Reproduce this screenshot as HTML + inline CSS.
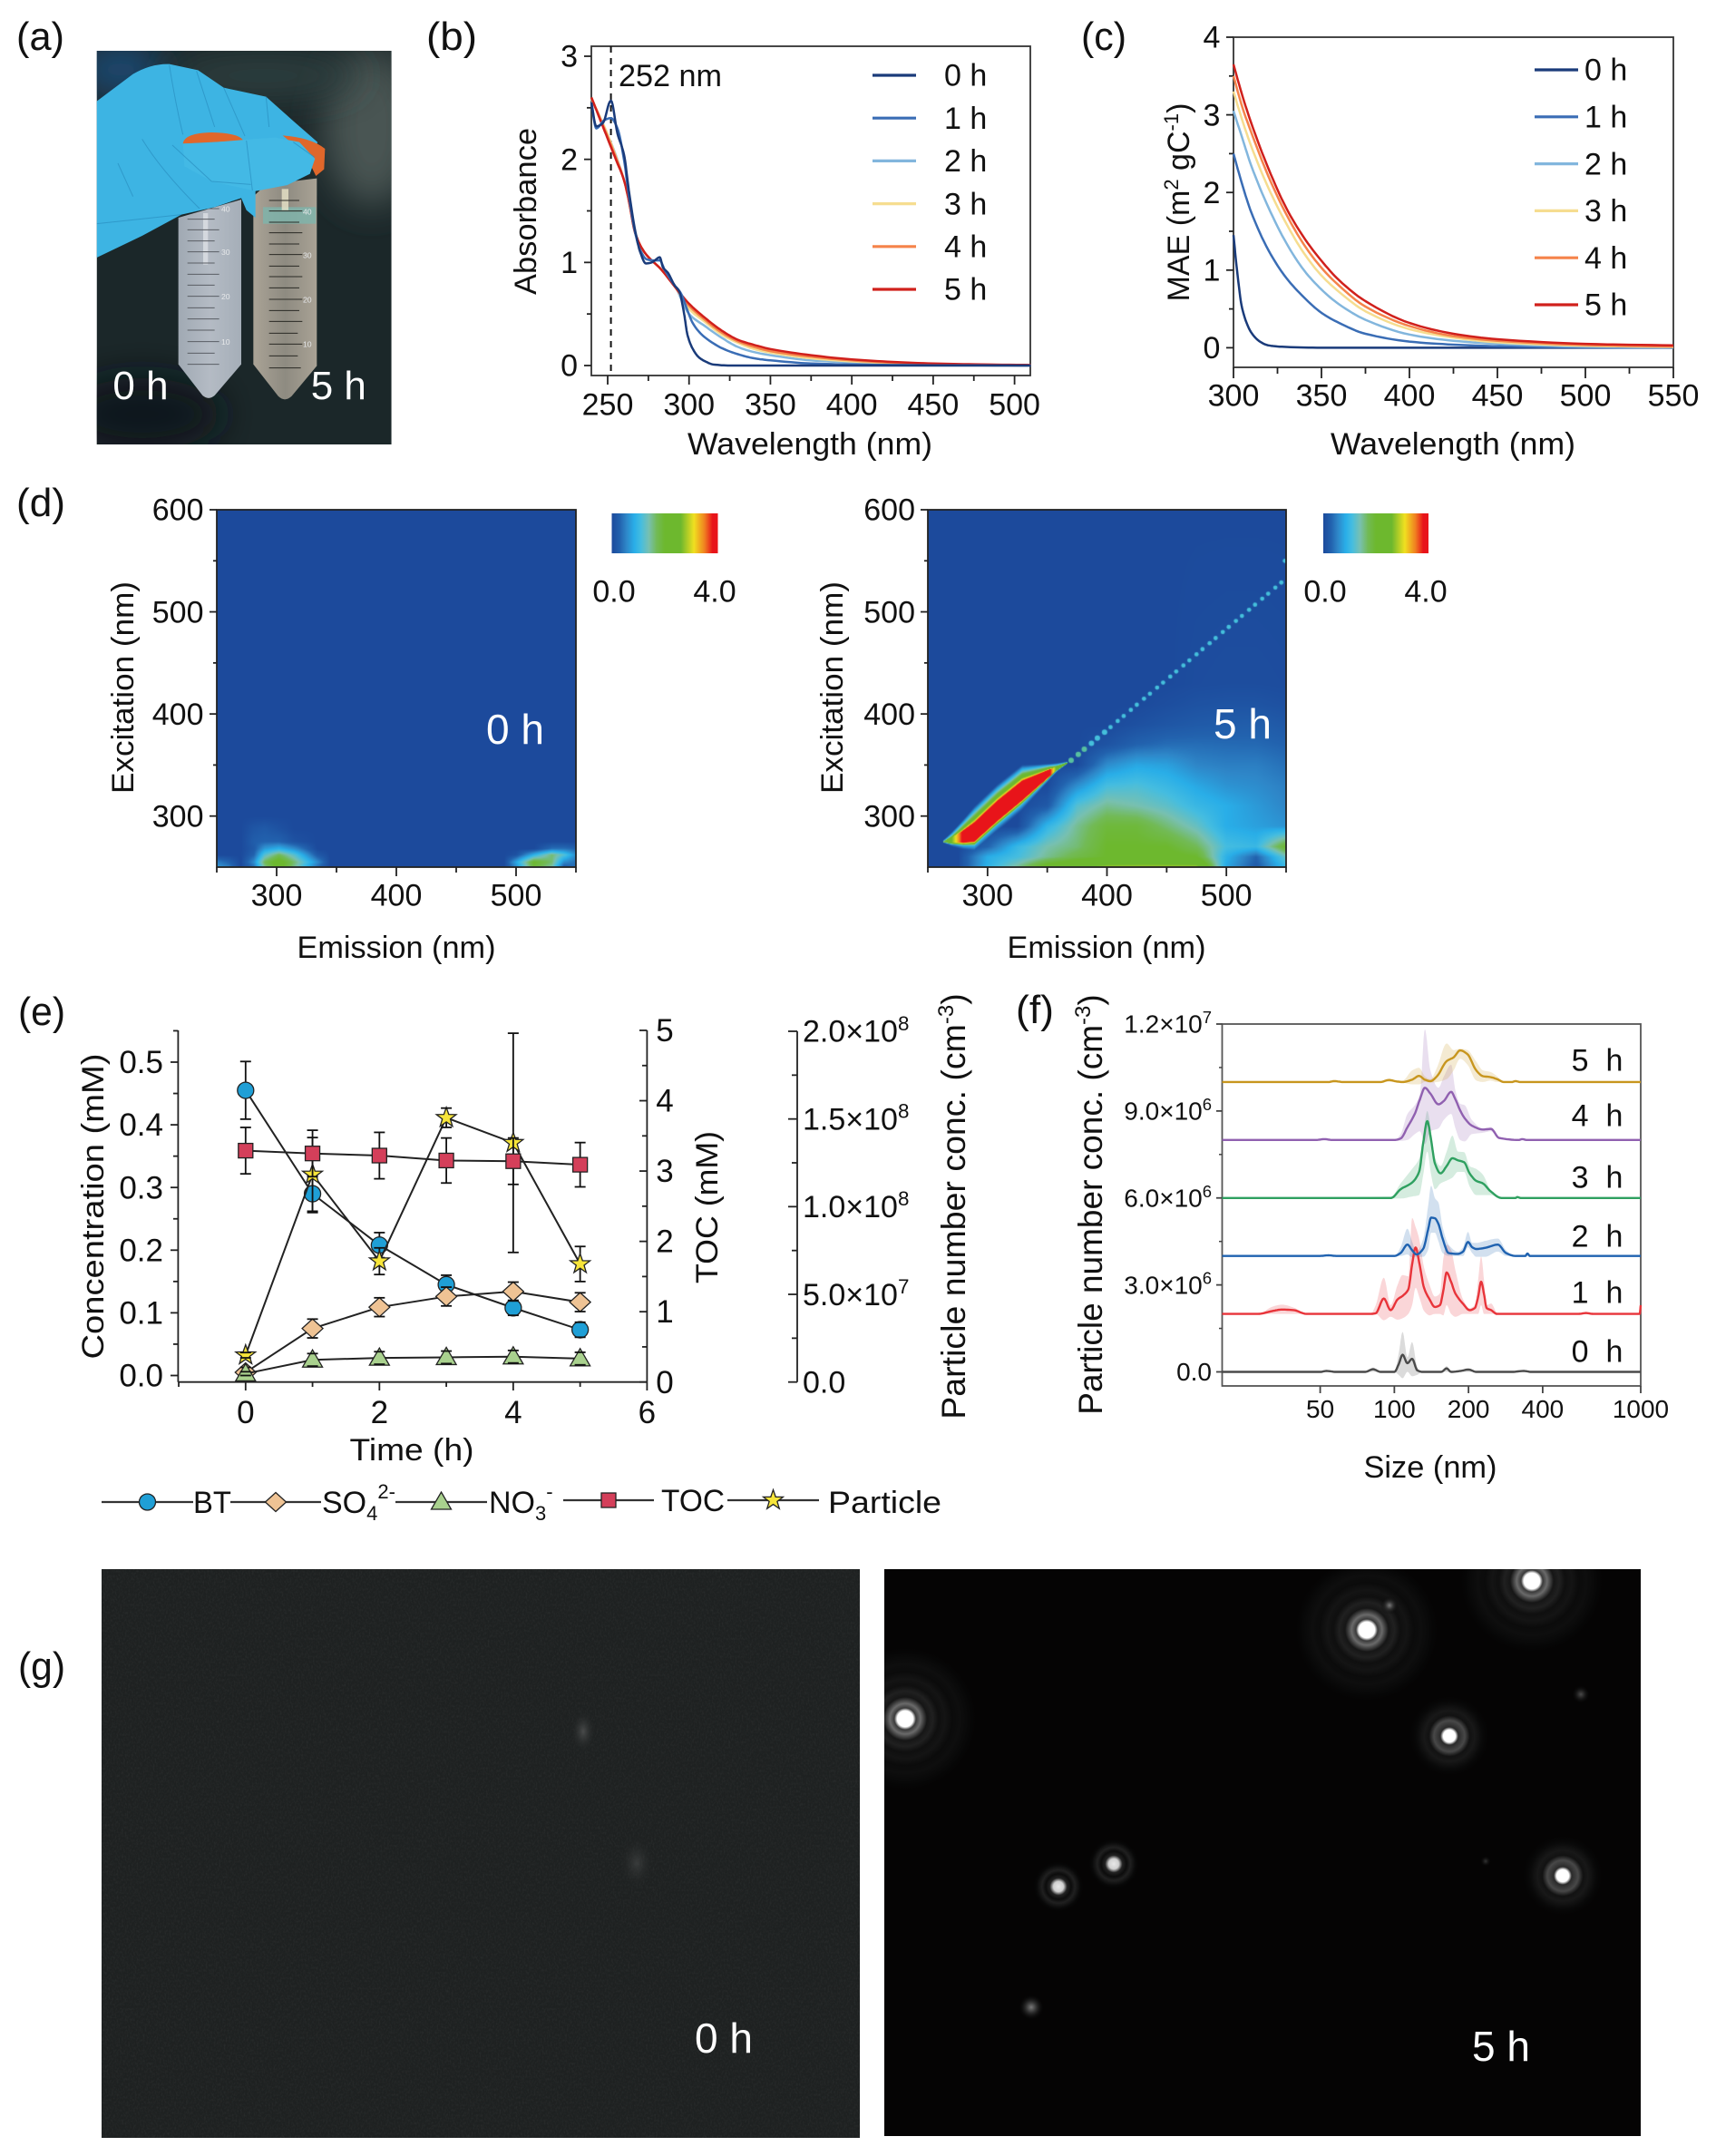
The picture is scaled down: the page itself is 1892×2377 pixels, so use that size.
<!DOCTYPE html>
<html lang="en">
<head>
<meta charset="utf-8">
<title>Multi-panel figure</title>
<style>
html,body{margin:0;padding:0;background:#fff}
#page{position:relative;width:1892px;height:2377px;overflow:hidden;background:#fff}
canvas{position:absolute;display:block}
#fig{position:absolute;left:0;top:0;font-family:"Liberation Sans",sans-serif;fill:#111}
</style>
</head>
<body>
<div id="page">
<canvas id="eem0" width="396" height="394" style="left:239px;top:562px"></canvas>
<canvas id="eem5" width="395" height="394" style="left:1023px;top:562px"></canvas>
<svg id="fig" xmlns="http://www.w3.org/2000/svg" width="1892" height="2377" viewBox="0 0 1892 2377">
<defs>
<clipPath id="photoClip"><rect x="50" y="48" width="975" height="1302"/></clipPath>
<clipPath id="g5Clip"><rect x="975" y="1730" width="834" height="625"/></clipPath>
<filter id="blur30" x="-80%" y="-80%" width="260%" height="260%"><feGaussianBlur stdDeviation="60"/></filter>
<filter id="noise" x="0" y="0" width="100%" height="100%">
<feTurbulence type="fractalNoise" baseFrequency="0.55 0.35" numOctaves="2" seed="4"/>
<feColorMatrix type="matrix" values="0 0 0 0 1  0 0 0 0 1  0 0 0 0 1  0.5 0.5 0 0 -0.42"/>
</filter>
<linearGradient id="tube0Fill" x1="0" x2="1" y1="0" y2="0"><stop offset="0" stop-color="#a0a9b3"/><stop offset=".5" stop-color="#b4bbc4"/><stop offset="1" stop-color="#a5aeb8"/></linearGradient>
<linearGradient id="tube5Fill" x1="0" x2="1" y1="0" y2="0"><stop offset="0" stop-color="#aaa396"/><stop offset=".5" stop-color="#8e8b81"/><stop offset="1" stop-color="#a9a295"/></linearGradient>
<radialGradient id="spotBig"><stop offset="0" stop-color="#fff"/><stop offset=".11" stop-color="#fff"/><stop offset=".15" stop-color="#3a3a3a"/><stop offset=".21" stop-color="#6a6a6a"/><stop offset=".3" stop-color="#161616"/><stop offset=".38" stop-color="#202020"/><stop offset=".46" stop-color="#0f0f0f"/><stop offset=".55" stop-color="#141414"/><stop offset=".65" stop-color="#0b0b0b"/><stop offset=".75" stop-color="#0e0e0e"/><stop offset=".88" stop-color="#080808"/><stop offset="1" stop-color="#050505" stop-opacity="0"/></radialGradient>
<radialGradient id="spotMid"><stop offset="0" stop-color="#fff"/><stop offset=".15" stop-color="#fff"/><stop offset=".22" stop-color="#2a2a2a"/><stop offset=".38" stop-color="#484848"/><stop offset=".5" stop-color="#121212"/><stop offset=".62" stop-color="#181818"/><stop offset=".8" stop-color="#0a0a0a"/><stop offset="1" stop-color="#050505" stop-opacity="0"/></radialGradient>
<radialGradient id="spotSmall"><stop offset="0" stop-color="#e8e8e8"/><stop offset=".2" stop-color="#d0d0d0"/><stop offset=".34" stop-color="#222"/><stop offset=".5" stop-color="#0c0c0c"/><stop offset=".65" stop-color="#202020"/><stop offset=".85" stop-color="#090909"/><stop offset="1" stop-color="#050505" stop-opacity="0"/></radialGradient>
<radialGradient id="spotFaint"><stop offset="0" stop-color="#777"/><stop offset=".4" stop-color="#333"/><stop offset="1" stop-color="#050505" stop-opacity="0"/></radialGradient>
<radialGradient id="spotGrey"><stop offset="0" stop-color="#4a4c4c"/><stop offset="1" stop-color="#1e2121" stop-opacity="0"/></radialGradient>
</defs>

<!-- panel letters -->
<g font-size="44">
<text x="18" y="55" textLength="53" lengthAdjust="spacingAndGlyphs">(a)</text>
<text x="470" y="55" textLength="56" lengthAdjust="spacingAndGlyphs">(b)</text>
<text x="1192" y="55" textLength="50" lengthAdjust="spacingAndGlyphs">(c)</text>
<text x="18" y="569" textLength="54" lengthAdjust="spacingAndGlyphs">(d)</text>
<text x="20" y="1130" textLength="52" lengthAdjust="spacingAndGlyphs">(e)</text>
<text x="1120" y="1128" textLength="42" lengthAdjust="spacingAndGlyphs">(f)</text>
<text x="20" y="1852" textLength="52" lengthAdjust="spacingAndGlyphs">(g)</text>
</g>

<!-- (a) photo -->
<g transform="translate(90 40) scale(.33333)" clip-path="url(#photoClip)">
<rect x="50" y="48" width="975" height="1302" fill="#1b2729"/>
<ellipse cx="130" cy="110" rx="150" ry="90" fill="#1e4a72" filter="url(#blur30)"/>
<ellipse cx="960" cy="300" rx="160" ry="260" fill="#4a5452" filter="url(#blur30)"/>
<ellipse cx="600" cy="130" rx="320" ry="70" fill="#2d4040" filter="url(#blur30)"/>
<ellipse cx="200" cy="1250" rx="260" ry="120" fill="#10181a" filter="url(#blur30)"/>
<path d="M320 600 L528 540 L528 1085 L440 1188 Q420 1205 400 1188 L320 1085 Z" fill="url(#tube0Fill)"/>
<path d="M568 1085 L568 530 L610 490 L778 470 L778 1090 L695 1190 Q672 1212 650 1190 Z" fill="url(#tube5Fill)"/>
<rect x="600" y="565" width="175" height="55" fill="#7db5ad" opacity=".8"/>
<rect x="662" y="505" width="22" height="70" fill="#e8e4c8" opacity=".8"/>
<rect x="402" y="585" width="16" height="170" fill="#e2e6e9" opacity=".7"/>
<path d="M350 570H455M350 605H440M350 640H455M350 677H440M350 713H455M350 750H440M350 787H455M350 823H440M350 860H455M350 898H440M350 935H455M350 972H440M350 1010H455M350 1048H440M350 1085H455" stroke="#5a5e64" stroke-width="3" fill="none"/>
<path d="M620 543H720M620 578H730M620 615H720M620 650H730M620 687H720M620 722H730M620 760H720M620 795H730M620 832H720M620 870H730M620 907H720M620 943H730M620 982H715M620 1018H730M620 1057H715M620 1097H725" stroke="#2a2a25" stroke-width="3" fill="none"/>
<g font-size="26" fill="#e5e7e9">
<text x="462" y="580">40</text><text x="462" y="723">30</text><text x="462" y="870">20</text><text x="462" y="1020">10</text>
<text x="732" y="590">40</text><text x="732" y="733">30</text><text x="732" y="880">20</text><text x="732" y="1028">10</text>
</g>
<path d="M50 215 L170 125 Q230 90 290 92 L385 112 L470 170 L610 200 L700 280 L780 350 L770 410 L755 455 L680 492 L575 512 L575 600 L545 575 L528 535 L440 565 L330 590 L200 660 L50 732 Z" fill="#3db4e3"/>
<path d="M335 355 Q340 320 430 318 Q520 320 535 345 Z" fill="#e0672b"/>
<path d="M665 328 Q760 335 805 372 L802 440 L775 462 L740 390 Z" fill="#e0672b"/>
<path d="M335 355 L420 352 L540 342 L640 335 L720 350 L772 405 L755 455 L680 492 L575 512 L430 480 L340 430 Z" fill="#43b9e5"/>
<path d="M290 95 Q310 220 335 325 M380 115 L440 300 M470 170 L540 330 M610 200 L620 300 M545 345 L565 510 M200 340 Q260 440 390 570 M300 360 L430 480 M50 620 L330 590 M120 420 L170 530 M430 480 L560 490 M700 350 L770 400" stroke="#2a8fc0" stroke-width="3" stroke-opacity=".7" fill="none"/>
<text x="195" y="1200" text-anchor="middle" font-size="132" fill="#fff">0 h</text>
<text x="850" y="1200" text-anchor="middle" font-size="132" fill="#fff">5 h</text>
</g>

<!-- (b) -->
<g id="panelB">
<rect x="652" y="51" width="484" height="363" fill="none" stroke="#333" stroke-width="1.8"/>
<text x="682" y="95" font-size="34" textLength="114" lengthAdjust="spacingAndGlyphs">252 nm</text>
<text x="893" y="501" font-size="34" text-anchor="middle" textLength="270" lengthAdjust="spacingAndGlyphs">Wavelength (nm)</text>
<text transform="translate(591 233) rotate(-90)" font-size="34" text-anchor="middle" textLength="184" lengthAdjust="spacingAndGlyphs">Absorbance</text>
</g>

<!-- (c) -->
<g id="panelC">
<rect x="1360" y="41" width="485" height="364" fill="none" stroke="#333" stroke-width="1.8"/>
<text x="1602" y="501" font-size="34" text-anchor="middle" textLength="270" lengthAdjust="spacingAndGlyphs">Wavelength (nm)</text>
<text transform="translate(1311 223) rotate(-90)" font-size="34" text-anchor="middle">MAE (m<tspan dy="-12" font-size="22">2</tspan><tspan dy="12"> gC</tspan><tspan dy="-12" font-size="22">-1</tspan><tspan dy="12">)</tspan></text>
</g>

<!-- (d) -->
<g id="panelD">
<text x="568" y="820" font-size="46" text-anchor="middle" fill="#fff">0 h</text>
<text x="1370" y="814" font-size="46" text-anchor="middle" fill="#fff">5 h</text>
<text x="437" y="1056" font-size="34" text-anchor="middle" textLength="219" lengthAdjust="spacingAndGlyphs">Emission (nm)</text>
<text x="1220" y="1056" font-size="34" text-anchor="middle" textLength="219" lengthAdjust="spacingAndGlyphs">Emission (nm)</text>
<text transform="translate(147 758) rotate(-90)" font-size="34" text-anchor="middle" textLength="234" lengthAdjust="spacingAndGlyphs">Excitation (nm)</text>
<text transform="translate(929 758) rotate(-90)" font-size="34" text-anchor="middle" textLength="234" lengthAdjust="spacingAndGlyphs">Excitation (nm)</text>
</g>

<!-- (e) -->
<g id="panelE">
<text x="454" y="1610" font-size="34" text-anchor="middle" textLength="137" lengthAdjust="spacingAndGlyphs">Time (h)</text>
<text transform="translate(114 1330) rotate(-90)" font-size="34" text-anchor="middle" textLength="337" lengthAdjust="spacingAndGlyphs">Concentration (mM)</text>
<text transform="translate(791 1331) rotate(-90)" font-size="34" text-anchor="middle" textLength="168" lengthAdjust="spacingAndGlyphs">TOC (mM)</text>
<text transform="translate(1064 1330) rotate(-90)" font-size="37.5" text-anchor="middle">Particle number conc. (cm<tspan dy="-13" font-size="24">-3</tspan><tspan dy="13">)</tspan></text>
<g font-size="34">
<text x="213" y="1668" textLength="42" lengthAdjust="spacingAndGlyphs">BT</text>
<text x="355" y="1668">SO<tspan dy="8" font-size="22">4</tspan><tspan dy="-24" font-size="22">2-</tspan></text>
<text x="539" y="1668">NO<tspan dy="8" font-size="22">3</tspan><tspan dy="-24" font-size="22">-</tspan></text>
<text x="729" y="1666" textLength="70" lengthAdjust="spacingAndGlyphs">TOC</text>
<text x="913" y="1668" textLength="125" lengthAdjust="spacingAndGlyphs">Particle</text>
</g>
</g>

<!-- (f) -->
<g id="panelF">
<text x="1577" y="1629" font-size="34" text-anchor="middle" textLength="147" lengthAdjust="spacingAndGlyphs">Size (nm)</text>
<text transform="translate(1215 1328) rotate(-90)" font-size="37" text-anchor="middle">Particle number conc. (cm<tspan dy="-13" font-size="24">-3</tspan><tspan dy="13">)</tspan></text>
</g>

<!-- (g) -->
<g>
<rect x="112" y="1730" width="836" height="627" fill="#1e2121"/>
<rect x="112" y="1730" width="836" height="627" filter="url(#noise)" opacity=".12"/>
<ellipse cx="643" cy="1909" rx="14" ry="24" fill="url(#spotGrey)"/>
<ellipse cx="702" cy="2054" rx="20" ry="30" fill="url(#spotGrey)" opacity=".6"/>
<text x="798" y="2263" font-size="46" text-anchor="middle" fill="#fff">0 h</text>
<rect x="975" y="1730" width="834" height="625" fill="#050404"/>
<g clip-path="url(#g5Clip)">
<circle cx="998" cy="1895" r="80" fill="url(#spotBig)"/>
<circle cx="1507" cy="1797" r="80" fill="url(#spotBig)"/>
<circle cx="1532" cy="1770" r="10" fill="url(#spotFaint)"/>
<circle cx="1689" cy="1743" r="80" fill="url(#spotBig)"/>
<circle cx="1598" cy="1914" r="45" fill="url(#spotMid)"/>
<circle cx="1723" cy="2068" r="45" fill="url(#spotMid)"/>
<circle cx="1228" cy="2055" r="28" fill="url(#spotSmall)"/>
<circle cx="1167" cy="2080" r="28" fill="url(#spotSmall)"/>
<circle cx="1137" cy="2213" r="14" fill="url(#spotFaint)"/>
<circle cx="1743" cy="1868" r="10" fill="url(#spotFaint)" opacity=".6"/>
<circle cx="1638" cy="2052" r="6" fill="url(#spotFaint)" opacity=".4"/>
</g>
<text x="1655" y="2272" font-size="46" text-anchor="middle" fill="#fff">5 h</text>
</g>
</svg>
</div>

<script>
/* ---------- panel (b) data ---------- */
const hourLabels = ['0 h','1 h','2 h','3 h','4 h','5 h'];
const absTicksX = [250,300,350,400,450,500];
const absMinorX = [275,325,375,425,475];
const absTicksY = [0,1,2,3];
const absMinorY = [0.5,1.5,2.5];
const absWl0 = [240,243,247,252,256,260,263,267,270,273.5,277,279,282,284,287,291,294,297,299,302,306,310,315,325,510];
const abs0h = [2.55,2.32,2.35,2.57,2.25,2.05,1.7,1.3,1.1,0.99,1.0,1.02,1.05,0.95,0.9,0.78,0.72,0.5,0.3,0.17,0.08,0.04,0.01,0,0];
const absWl1 = [240,243,248,252,256,260,263,267,270,274,278,282,285,291,295,298,302,306,310,320,330,340,350,375,400,450,510];
const abs1h = [2.55,2.3,2.38,2.4,2.3,2.0,1.65,1.28,1.12,1.03,1.02,1.02,0.93,0.78,0.7,0.58,0.42,0.33,0.27,0.17,0.11,0.07,0.05,0.02,0.01,0.003,0];
const absWl = [240,245,250,255,260,263,267,273,283,291,300,310,320,330,340,350,375,400,425,450,475,510];
const abs2h = [2.58,2.42,2.24,2.04,1.8,1.6,1.28,1.09,0.93,0.78,0.5,0.38,0.27,0.18,0.13,0.1,0.05,0.03,0.015,0.008,0.004,0.002];
const abs3h = [2.59,2.42,2.24,2.03,1.8,1.6,1.28,1.09,0.93,0.78,0.55,0.42,0.3,0.22,0.16,0.125,0.07,0.04,0.022,0.012,0.007,0.003];
const abs4h = [2.6,2.41,2.22,2.02,1.8,1.6,1.28,1.09,0.93,0.77,0.58,0.44,0.32,0.235,0.18,0.14,0.085,0.05,0.028,0.016,0.009,0.004];
const abs5h = [2.6,2.4,2.2,2.0,1.8,1.6,1.28,1.09,0.93,0.77,0.6,0.46,0.34,0.25,0.2,0.16,0.1,0.06,0.035,0.02,0.012,0.005];

/* ---------- panel (c) data ---------- */
const maeTicksX = [300,350,400,450,500,550];
const maeMinorX = [325,375,425,475,525];
const maeTicksY = [0,1,2,3,4];
const maeMinorY = [0.5,1.5,2.5,3.5];
const maeWl0 = [300,302,305,310,315,320,330,350,550];
const mae0h = [1.45,1.0,0.5,0.2,0.08,0.03,0.01,0,0];
const maeWl1 = [300,305,310,320,330,340,350,360,375,400,425,450,500,550];
const mae1h = [2.5,2.1,1.75,1.25,0.9,0.65,0.45,0.32,0.18,0.08,0.04,0.02,0.005,0];
const mae2h = [3.05,2.7,2.35,1.8,1.35,1.0,0.75,0.56,0.36,0.17,0.09,0.05,0.015,0.005];
const mae3h = [3.3,2.93,2.6,2.05,1.6,1.22,0.93,0.72,0.47,0.24,0.13,0.07,0.025,0.01];
const mae4h = [3.5,3.1,2.78,2.2,1.72,1.33,1.03,0.8,0.53,0.28,0.15,0.09,0.035,0.015];
const mae5h = [3.65,3.25,2.9,2.3,1.8,1.42,1.12,0.87,0.6,0.32,0.18,0.11,0.05,0.03];

/* ---------- panel (d) data ---------- */
const eemTicksX = [300,400,500];
const eemMinorX = [250,350,450,550];
const eemTicksY = [300,400,500,600];
const eemMinorY = [350,450,550];
const colorStops = [0,0.3,0.55,0.85,1.1,1.4,1.7,2.0,2.6,3.1,3.5,3.8,4.0];
const colorHex = ['#1c4a9c','#2262ae','#2e86c8','#29aee8','#45bde0','#78c0b0','#72ba55','#6db82e','#6db82e','#f0e020','#f08020','#e8141a','#e8141a'];
const cbarLabels = ['0.0','4.0'];

const em0 = [250,260,270,281,290,302,315,334,345,490,500,515,530,540,550];
const ex0 = [250,255,262,268,275,288,300,600];
const eem0Row250 = [0.7,0.5,0,0.4,1.5,2.2,1.5,0.4,0,0,0.6,1.9,1.4,0.2,0.4];
const eem0Row255 = [0.5,0.3,0,0.6,1.7,2.2,1.6,0.6,0,0,0.8,2.0,1.6,0.6,0.4];
const eem0Row262 = [0,0,0,0.3,1.2,1.7,1.2,0.2,0,0,0.1,0.9,1.6,1.2,0.6];
const eem0Row268 = [0,0,0,0.2,0.7,0.9,0.6,0,0,0,0,0,0.4,0.4,0.3];
const eem0Row275 = [0,0,0,0.25,0.3,0.3,0.1,0,0,0,0,0,0,0,0];
const eem0Row288 = [0,0,0,0.15,0.2,0.1,0,0,0,0,0,0,0,0,0];
const eem0Row300 = [0,0,0,0,0,0,0,0,0,0,0,0,0,0,0];
const eem0Row600 = [0,0,0,0,0,0,0,0,0,0,0,0,0,0,0];

const em5 = [250,275,300,325,350,375,400,425,450,475,500,525,550];
const ex5 = [250,260,270,290,310,330,350,370,390,410,430,600];
const eem5Row250 = [0,0,0.9,1.5,2.2,2.5,2.8,2.8,2.8,2.8,0.8,0.2,1.0];
const eem5Row260 = [0,0,0.85,1.1,1.5,1.8,2.0,2.1,2.1,2.0,0.9,0.3,1.3];
const eem5Row270 = [0,0,0.3,1.0,1.4,1.6,2.0,2.0,2.0,1.7,1.1,1.0,2.0];
const eem5Row290 = [0,0,0,0,0.95,1.5,1.9,1.9,1.6,1.3,0.85,0.75,0.65];
const eem5Row310 = [0,0,0,0,0.2,1.2,1.5,1.4,1.25,1.0,0.85,0.7,0.55];
const eem5Row330 = [0,0,0,0,0,0.6,1.1,1.15,1.0,0.8,0.65,0.6,0.5];
const eem5Row350 = [0,0,0,0,0,0,0.6,0.8,0.75,0.55,0.5,0.5,0.4];
const eem5Row370 = [0,0,0,0,0,0,0.12,0.3,0.38,0.38,0.36,0.35,0.3];
const eem5Row390 = [0,0,0,0,0,0,0,0.08,0.15,0.2,0.23,0.25,0.18];
const eem5Row410 = [0,0,0,0,0,0,0,0,0.05,0.1,0.12,0.12,0.08];
const eem5Row430 = [0,0,0,0,0,0,0,0,0,0.03,0.04,0.04,0.03];
const eem5Row600 = [0,0,0,0,0,0,0,0,0,0,0,0,0];

const ridgeEm = [263,270,280,289,308,329,351.5,358,367];
const ridgeLowEx = [274,272,271,271,291,311.5,337,344,351.5];
const ridgeTopEx = [276,282,292,302,323,342.6,348.5,350.5,353];
const ridgePeak = [1.5,2.6,4.0,4.2,4.3,4.3,4.1,2.4,2.0];
const ridgeProfileT = [-0.2,0,0.1,0.16,0.7,0.78,0.86,1,1.25];
const ridgeProfileF = [0,0.22,0.72,1,1,0.72,0.55,0.35,0];

const scatterEm = [370,376,381,387,392,398,403,409,414,420,425,431,436,442,447,453,458,464,469,475,480,486,491,497,502,508,513,519,524,530,535,541,546,549];
const scatterEx = [354.5,360.4,365.4,371.3,376.3,382.2,387.1,393.1,398,404,409,414.9,419.8,425.8,430.7,436.6,441.6,447.5,452.5,458.4,463.4,469.3,474.3,480.2,485.2,491.1,496,502,507,512.9,517.8,523.8,528.7,550];

/* ---------- panel (e) data ---------- */
const timeHours = [0,1,2,3,4,5];
const btConc = [0.455,0.29,0.208,0.145,0.108,0.073];
const btErr = [0.046,0.03,0.02,0.015,0.012,0.012];
const so4Conc = [0.005,0.075,0.109,0.126,0.134,0.117];
const so4Err = [0.008,0.015,0.015,0.015,0.015,0.015];
const no3Conc = [0.003,0.025,0.028,0.029,0.03,0.027];
const no3Err = [0.003,0.01,0.01,0.01,0.01,0.01];
const tocConc = [3.29,3.25,3.22,3.15,3.14,3.09];
const tocErr = [0.33,0.33,0.33,0.32,0.33,0.315];
const particleConc = [0.153,1.184,0.689,1.507,1.364,0.673];
const particleErr = [0.015,0.21,0.076,0.055,0.625,0.1];
const timeTicks = [0,2,4,6];
const timeMinor = [-1,1,3,5];
const concTicks = [0,0.1,0.2,0.3,0.4,0.5];
const concMinor = [0.05,0.15,0.25,0.35,0.45,0.55];
const tocTicks = [0,1,2,3,4,5];
const tocMinor = [0.5,1.5,2.5,3.5,4.5];
const particleTicks = [0,0.5,1,1.5,2];
const particleTickLabels = ['0.0','5.0×10','1.0×10','1.5×10','2.0×10'];
const particleTickExp = ['','7','8','8','8'];
const particleMinor = [0.25,0.75,1.25,1.75];

/* ---------- panel (f) data ---------- */
const sizeTicks = [50,100,200,400,1000];
const fTicksY = [0,3,6,9,12];
const fTickLabels = ['0.0','3.0×10','6.0×10','9.0×10','1.2×10'];
const fTickExp = ['','6','6','6','7'];
const fMinorY = [1.5,4.5,7.5,10.5];
const fOffsets = [0,2,4,6,8,10];

const sizes0 = [20,50,53,58,76,82,88,100,104,108,113,118,124,130,155,163,170,185,200,215,300,335,360,1000];
const line0 = [0,0,0.03,0,0,0.09,0,0,0.25,0.59,0.3,0.45,0.05,0,0,0.12,0,0.03,0.08,0,0,0.03,0,0];
const upper0 = [0,0,0.06,0,0,0.15,0,0,0.6,1.38,0.5,1.03,0.15,0,0,0.2,0,0.05,0.1,0,0,0.05,0,0];
const lower0 = [0,0,0,0,0,0,0,0,-0.1,-0.22,0,-0.15,-0.1,0,0,0,0,0,0,0,0,0,0,0];

const sizes1 = [20,28,32,35,39,44,80,84,90.6,96.6,103,108,114,118,122,126,132,139,146,153,158,163,170,177,190,202,212,219,225,231,237,247,261,290,560,600,640,990,1000];
const line1 = [0,0,0.1,0.15,0.13,0,0,0.02,0.53,0.13,0.5,0.62,0.85,1.7,2.29,1.8,0.9,0.5,0.24,0.3,0.8,1.43,1.1,0.7,0.35,0.13,0.2,0.6,1.11,0.7,0.2,0.13,0,0,0,0.03,0,0,0.3];
const upper1 = [0,0,0.25,0.32,0.22,0,0,0.3,1.25,0.3,1.0,1.34,1.3,3.31,3,2.6,1.6,1,0.6,0.7,1.9,2.39,2.2,1.5,0.5,0.2,0.3,1.2,1.98,1.2,0.3,0.36,0.05,0,0,0.05,0,0,0.3];
const lower1 = [0,0,0,0,0,0,0,0,-0.22,-0.1,-0.2,-0.15,0,0.3,0.9,0.6,0.1,-0.05,0,0,-0.05,0.3,0,-0.1,0,0,0,0,0.3,0,0,0,0,0,0,0,0,0,0.3];

const sizes2 = [20,50,54,58,100,106,113,118,123,131,137,141,146,151,157,166,181,190,199,207,215,234,263,284,310,340,347,355,1000];
const line2 = [0,0,0.02,0,0,0.1,0.39,0.2,0.05,0.25,0.9,1.32,1.3,1.1,0.6,0.1,0.07,0.15,0.48,0.3,0.24,0.28,0.39,0.1,0,0,0.08,0,0];
const upper2 = [0,0,0.03,0,0,0.3,0.94,0.5,0.15,0.6,1.7,2.42,2,1.84,1,0.39,0.15,0.3,0.83,0.45,0.45,0.52,0.6,0.2,0,0,0.1,0,0];
const lower2 = [0,0,0,0,0,0,0.05,-0.05,-0.03,-0.03,0.2,0.8,0.8,0.5,0.1,0,0,0,0.3,0.1,-0.03,-0.03,0.15,0,0,0,0,0,0];

const sizes3 = [20,97,106,118,126,131,136,141,146,154,163,172,181,192,202,215,229,245,272,310,316,325,1000];
const line3 = [0,0,0.3,0.53,0.9,1.9,2.65,2,1.2,0.85,1.1,1.37,1.3,1.23,0.85,0.59,0.5,0.24,0,0,0.03,0,0];
const upper3 = [0,0.05,0.5,1,1.35,2.2,3,2.3,1.4,1.1,1.6,2.15,1.6,1.58,1.1,1,0.8,0.3,0,0,0.04,0,0];
const lower3 = [0,-0.02,-0.02,0.05,0.1,0.8,1.6,0.8,0.3,0.5,0.6,0.7,0.9,0.9,0.4,0.1,0.1,0.1,0,0,0.02,0,0];

const sizes4 = [20,48,52,56,100,106,113,121,127,133,140,151,159,170,177,185,193,206,229,247,266,320,330,345,1000];
const line4 = [0,0,0.03,0,0,0.05,0.44,0.9,1.4,1.8,1.6,1.23,1.35,1.66,1.4,1.02,0.75,0.5,0.36,0.38,0.07,0,0.03,0,0];
const upper4 = [0,0,0.04,0,0,0.2,0.9,1.2,1.6,3.82,2.4,1.8,2.2,2.6,1.7,1.25,1.2,0.7,0.4,0.45,0.1,0,0.04,0,0];
const lower4 = [0,0,0,0,0,-0.03,0,0.2,0.3,-0.14,0.3,0.4,0.7,0.9,0.4,0,-0.05,0.2,0.25,0.3,0.03,0,0,0,0];

const sizes5 = [20,54,57,62,88,95,102,108,118,126,133,140,149,163,174,185,198,215,229,245,261,278,300,310,325,1000];
const line5 = [0,0,0.03,0,0,0.07,0.02,0,0.08,0.21,0.08,0.03,0.2,0.72,0.85,1.09,0.96,0.4,0.2,0.17,0.1,0,0,0.03,0,0];
const upper5 = [0,0,0.05,0,0,0.1,0.05,0.05,0.4,0.49,0.2,0.1,0.5,1.33,1.1,1.15,1.1,0.7,0.4,0.35,0.2,0,0,0.04,0,0];
const lower5 = [0,0,0,0,0,0,0,-0.02,-0.08,-0.08,0,-0.02,0,0.1,0.4,0.8,0.6,0.05,0,0.05,0,0,0,0,0,0];

/* ---------- helpers ---------- */
const NS = 'http://www.w3.org/2000/svg';
function linear(d0,d1,r0,r1){return function(v){return r0+(v-d0)*(r1-r0)/(d1-d0);};}
function node(parent,tag,name){
  const el = document.createElementNS(NS,tag);
  
  
  parent.appendChild(el);
  return el;
}
function seg(parent,x1,y1,x2,y2,name,width,color){
  const l = node(parent,'line',name);
  l.setAttribute('x1',x1);l.setAttribute('y1',y1);l.setAttribute('x2',x2);l.setAttribute('y2',y2);
  l.setAttribute('stroke',color||'#222');l.setAttribute('stroke-width',width||1.8);
  return l;
}
function label(parent,x,y,str,size,anchor,name,exp){
  const t = node(parent,'text',name);
  t.setAttribute('x',x);t.setAttribute('y',y+size*0.345);
  t.setAttribute('font-size',size);t.setAttribute('text-anchor',anchor||'middle');
  t.textContent = str;
  if(exp){
    const s = node(t,'tspan',name+'-exponent');
    s.setAttribute('dy',-size*0.38);s.setAttribute('font-size',size*0.66);
    s.textContent = exp;
  }
  return t;
}
function curvePoints(px,py){
  const n=px.length, dx=[], m=[], sl=[], out=[];
  for(let i=0;i<n-1;i++){dx[i]=Math.max(px[i+1]-px[i],1e-6);sl[i]=(py[i+1]-py[i])/dx[i];}
  m[0]=sl[0];m[n-1]=sl[n-2];
  for(let i=1;i<n-1;i++){m[i]=sl[i-1]*sl[i]<=0?0:2*sl[i-1]*sl[i]/(sl[i-1]+sl[i]);}
  for(let i=0;i<n-1;i++){
    for(let k=0;k<8;k++){
      const t=k/8,h=dx[i],t2=t*t,t3=t2*t;
      out.push([px[i]+t*h,(2*t3-3*t2+1)*py[i]+(t3-2*t2+t)*h*m[i]+(-2*t3+3*t2)*py[i+1]+(t3-t2)*h*m[i+1]]);
    }
  }
  out.push([px[n-1],py[n-1]]);
  return out;
}
function pts2d(p){return p.map(function(q,i){return (i?'L':'M')+q[0].toFixed(1)+' '+q[1].toFixed(1);}).join('');}
function curve(parent,xs,ys,color,width,name){
  const p = node(parent,'path',name);
  p.setAttribute('d',pts2d(curvePoints(xs,ys)));
  p.setAttribute('fill','none');p.setAttribute('stroke',color);p.setAttribute('stroke-width',width);
  p.setAttribute('stroke-linejoin','round');
  return p;
}

const lineColors = ['#1a3b7a','#3a6db5','#82b6dd','#f6dd90','#f5834a','#d0201c'];

/* ---------- panel (b) ---------- */
(function(){
  const g = document.getElementById('panelB');
  const x = linear(250,500,670,1118.6), y = linear(0,3,403,62);
  absTicksX.forEach(function(v){
    seg(g,x(v),414,x(v),424,'absorbance-x-tick-'+v);
    label(g,x(v),446,String(v),34,'middle','absorbance-x-label-'+v);
  });
  absMinorX.forEach(function(v){seg(g,x(v),414,x(v),420,'absorbance-x-minor-tick-'+v);});
  absTicksY.forEach(function(v){
    seg(g,644,y(v),652,y(v),'absorbance-y-tick-'+v);
    label(g,637,y(v),String(v),34,'end','absorbance-y-label-'+v);
  });
  absMinorY.forEach(function(v){seg(g,647,y(v),652,y(v),'absorbance-y-minor-tick-'+v);});
  const dash = seg(g,x(252),51,x(252),414,'peak-marker-252nm',2,'#111');
  dash.setAttribute('stroke-dasharray','7 6');
  const xsets=[absWl0,absWl1,absWl,absWl,absWl,absWl], ysets=[abs0h,abs1h,abs2h,abs3h,abs4h,abs5h];
  const order=[2,3,4,5,1,0];
  order.forEach(function(i){
    curve(g,xsets[i].map(x),ysets[i].map(y),lineColors[i],2.5,'absorbance-line-'+i+'h');
  });
  hourLabels.forEach(function(h,i){
    const ly = 83+i*47.2;
    seg(g,962,ly,1010,ly,'absorbance-legend-line-'+i+'h',3.2,lineColors[i]);
    label(g,1041,ly,h,34,'start','absorbance-legend-label-'+i+'h');
  });
})();

/* ---------- panel (c) ---------- */
(function(){
  const g = document.getElementById('panelC');
  const x = linear(300,550,1360,1845), y = linear(0,4,383.4,41);
  maeTicksX.forEach(function(v){
    seg(g,x(v),405,x(v),417,'mae-x-tick-'+v);
    label(g,x(v),436,String(v),34,'middle','mae-x-label-'+v);
  });
  maeMinorX.forEach(function(v){seg(g,x(v),405,x(v),412,'mae-x-minor-tick-'+v);});
  maeTicksY.forEach(function(v){
    seg(g,1352,y(v),1360,y(v),'mae-y-tick-'+v);
    label(g,1336,y(v),String(v),34,'middle','mae-y-label-'+v);
  });
  maeMinorY.forEach(function(v){seg(g,1355,y(v),1360,y(v),'mae-y-minor-tick-'+v);});
  const xsets=[maeWl0,maeWl1,maeWl1,maeWl1,maeWl1,maeWl1], ysets=[mae0h,mae1h,mae2h,mae3h,mae4h,mae5h];
  ysets.forEach(function(ys,i){
    curve(g,xsets[i].map(x),ys.map(y),lineColors[i],2.5,'mae-line-'+i+'h');
  });
  hourLabels.forEach(function(h,i){
    const ly = 77+i*51.8;
    seg(g,1692,ly,1740,ly,'mae-legend-line-'+i+'h',3.2,lineColors[i]);
    label(g,1747,ly,h,34,'start','mae-legend-label-'+i+'h');
  });
})();

/* ---------- panel (d) ---------- */
function hexRgb(h){return [parseInt(h.slice(1,3),16),parseInt(h.slice(3,5),16),parseInt(h.slice(5,7),16)];}
const colorRgb = colorHex.map(hexRgb);
function colorOf(v){
  if(v<=colorStops[0])return colorRgb[0];
  for(let i=1;i<colorStops.length;i++){
    if(v<=colorStops[i]){
      const t=(v-colorStops[i-1])/(colorStops[i]-colorStops[i-1]),a=colorRgb[i-1],b=colorRgb[i];
      return [a[0]+(b[0]-a[0])*t,a[1]+(b[1]-a[1])*t,a[2]+(b[2]-a[2])*t];
    }
  }
  return colorRgb[colorRgb.length-1];
}
function locate(a,v){
  let i=0;
  while(i<a.length-2&&v>a[i+1])i++;
  return [i,Math.min(1,Math.max(0,(v-a[i])/(a[i+1]-a[i])))];
}
function gridAt(ems,exs,rows,em,ex){
  const p=locate(ems,em),q=locate(exs,ex),i=p[0],j=q[0],s=p[1],t=q[1];
  return (rows[j][i]*(1-s)+rows[j][i+1]*s)*(1-t)+(rows[j+1][i]*(1-s)+rows[j+1][i+1]*s)*t;
}
function ridgeAt(em,ex){
  if(em<ridgeEm[0]||em>ridgeEm[ridgeEm.length-1])return 0;
  const p=locate(ridgeEm,em),i=p[0],s=p[1];
  const lo=ridgeLowEx[i]+(ridgeLowEx[i+1]-ridgeLowEx[i])*s;
  const hi=ridgeTopEx[i]+(ridgeTopEx[i+1]-ridgeTopEx[i])*s;
  const pk=ridgePeak[i]+(ridgePeak[i+1]-ridgePeak[i])*s;
  const t=(ex-lo)/(hi-lo);
  if(t<=ridgeProfileT[0]||t>=ridgeProfileT[ridgeProfileT.length-1])return 0;
  const q=locate(ridgeProfileT,t),j=q[0];
  return pk*(ridgeProfileF[j]+(ridgeProfileF[j+1]-ridgeProfileF[j])*q[1]);
}
function paintEem(id,ems,exs,rows,useRidge){
  const c=document.getElementById(id),w=c.width,h=c.height,ctx=c.getContext('2d'),img=ctx.createImageData(w,h),d=img.data;
  for(let py=0;py<h;py++){
    const ex=600-(py+0.5)*350/h;
    for(let px=0;px<w;px++){
      const em=250+(px+0.5)*300/w;
      let v=gridAt(ems,exs,rows,em,ex);
      if(useRidge)v=Math.max(v,ridgeAt(em,ex));
      const col=colorOf(v),k=(py*w+px)*4;
      d[k]=col[0];d[k+1]=col[1];d[k+2]=col[2];d[k+3]=255;
    }
  }
  ctx.putImageData(img,0,0);
  if(useRidge){
    const xs=linear(250,550,0,w),ys=linear(600,250,0,h);
    scatterEm.forEach(function(em,i){
      ctx.beginPath();
      ctx.arc(xs(em),ys(scatterEx[i]),i<6?3:2.4,0,Math.PI*2);
      ctx.fillStyle=i<3?'#58c0a0':'#45c0dc';
      ctx.fill();
    });
  }
}
paintEem('eem0',em0,ex0,[eem0Row250,eem0Row255,eem0Row262,eem0Row268,eem0Row275,eem0Row288,eem0Row300,eem0Row600],false);
paintEem('eem5',em5,ex5,[eem5Row250,eem5Row260,eem5Row270,eem5Row290,eem5Row310,eem5Row330,eem5Row350,eem5Row370,eem5Row390,eem5Row410,eem5Row430,eem5Row600],true);

(function(){
  const g=document.getElementById('panelD'), defs=document.querySelector('#fig defs');
  const grad=node(defs,'linearGradient','colorbar-gradient');
  grad.id='cbarGrad';
  colorStops.forEach(function(v,i){
    const st=node(grad,'stop','colorbar-gradient-stop');
    st.setAttribute('offset',v/4);st.setAttribute('stop-color',colorHex[i]);
  });
  function frame(x0,x1,cb0,cb1,lab0,lab1,ylab,tag){
    const x=linear(250,550,x0,x1), y=linear(250,600,956,562);
    const r=node(g,'rect','eem-'+tag+'-frame');
    r.setAttribute('x',x0);r.setAttribute('y',562);r.setAttribute('width',x1-x0);r.setAttribute('height',394);
    r.setAttribute('fill','none');r.setAttribute('stroke','#222');r.setAttribute('stroke-width',1.8);
    eemTicksX.forEach(function(v){
      seg(g,x(v),956,x(v),966,'eem-'+tag+'-x-tick-'+v);
      label(g,x(v),987,String(v),34,'middle','eem-'+tag+'-x-label-'+v);
    });
    eemMinorX.forEach(function(v){seg(g,x(v),956,x(v),962,'eem-'+tag+'-x-minor-tick-'+v);});
    eemTicksY.forEach(function(v){
      seg(g,x0-8,y(v),x0,y(v),'eem-'+tag+'-y-tick-'+v);
      label(g,ylab,y(v),String(v),34,'end','eem-'+tag+'-y-label-'+v);
    });
    eemMinorY.forEach(function(v){seg(g,x0-4,y(v),x0,y(v),'eem-'+tag+'-y-minor-tick-'+v);});
    const b=node(g,'rect','eem-'+tag+'-colorbar');
    b.setAttribute('x',cb0);b.setAttribute('y',566);b.setAttribute('width',cb1-cb0);b.setAttribute('height',44);
    b.setAttribute('fill','url(#cbarGrad)');
    label(g,lab0,652,cbarLabels[0],34,'middle','eem-'+tag+'-colorbar-min');
    label(g,lab1,652,cbarLabels[1],34,'middle','eem-'+tag+'-colorbar-max');
  }
  frame(239,635,674.5,791.5,677,788,224.5,'0h');
  frame(1023,1418,1459,1575,1461,1572,1009,'5h');
})();

/* ---------- panel (e) ---------- */
(function(){
  const g=document.getElementById('panelE');
  const x=linear(0,6,270.8,713.4), yc=linear(0,0.5,1516.5,1171), yt=linear(0,5,1523.7,1136), yp=linear(0,2,1523.7,1137);
  seg(g,196.4,1136,196.4,1523.7,'concentration-axis-line');
  seg(g,196.4,1523.7,713.4,1523.7,'time-axis-line');
  seg(g,713.4,1136,713.4,1523.7,'toc-axis-line');
  seg(g,879,1137,879,1523.7,'particle-axis-line');
  timeTicks.forEach(function(v){
    seg(g,x(v),1523.7,x(v),1533,'time-tick-'+v);
    label(g,x(v),1557,String(v),35,'middle','time-label-'+v);
  });
  timeMinor.forEach(function(v){seg(g,x(v),1523.7,x(v),1529,'time-minor-tick-'+v);});
  concTicks.forEach(function(v){
    seg(g,188,yc(v),196.4,yc(v),'concentration-tick-'+v);
    label(g,180,yc(v),v.toFixed(1),35,'end','concentration-label-'+v);
  });
  concMinor.forEach(function(v){seg(g,191,yc(v),196.4,yc(v),'concentration-minor-tick-'+v);});
  tocTicks.forEach(function(v){
    seg(g,705,yt(v),713.4,yt(v),'toc-tick-'+v);
    label(g,733,yt(v),String(v),35,'middle','toc-label-'+v);
  });
  tocMinor.forEach(function(v){seg(g,708,yt(v),713.4,yt(v),'toc-minor-tick-'+v);});
  particleTicks.forEach(function(v,i){
    seg(g,869,yp(v),879,yp(v),'particle-tick-'+i);
    label(g,885,yp(v),particleTickLabels[i],34,'start','particle-label-'+i,particleTickExp[i]);
  });
  particleMinor.forEach(function(v){seg(g,873,yp(v),879,yp(v),'particle-minor-tick-'+v);});

  function marker(parent,kind,cx,cy,name){
    let m;
    if(kind==='circle'){
      m=node(parent,'circle',name);m.setAttribute('cx',cx);m.setAttribute('cy',cy);m.setAttribute('r',9);m.setAttribute('fill','#1f9fd6');
    }else if(kind==='diamond'){
      m=node(parent,'polygon',name);m.setAttribute('points',[cx,cy-10.5,cx+11.5,cy,cx,cy+10.5,cx-11.5,cy].join(' '));m.setAttribute('fill','#efc394');
    }else if(kind==='triangle'){
      m=node(parent,'polygon',name);m.setAttribute('points',[cx,cy-11,cx+11,cy+8,cx-11,cy+8].join(' '));m.setAttribute('fill','#a9d18e');
    }else if(kind==='square'){
      m=node(parent,'rect',name);m.setAttribute('x',cx-8);m.setAttribute('y',cy-8);m.setAttribute('width',16);m.setAttribute('height',16);m.setAttribute('fill','#d43f5a');
    }else{
      m=node(parent,'polygon',name);
      const p=[];
      for(let k=0;k<10;k++){
        const r=k%2?4.6:11.5,a=-Math.PI/2+k*Math.PI/5;
        p.push((cx+r*Math.cos(a)).toFixed(1),(cy+r*Math.sin(a)).toFixed(1));
      }
      m.setAttribute('points',p.join(' '));m.setAttribute('fill','#f7e53a');
    }
    m.setAttribute('stroke','#222');m.setAttribute('stroke-width',1.3);
    return m;
  }
  function series(vals,errs,scale,kind,name){
    const sg=node(g,'g',name+'-series');
    const poly=node(sg,'polyline',name+'-line');
    poly.setAttribute('points',vals.map(function(v,i){return x(timeHours[i])+','+scale(v);}).join(' '));
    poly.setAttribute('fill','none');poly.setAttribute('stroke','#222');poly.setAttribute('stroke-width',2);
    vals.forEach(function(v,i){
      const px=x(timeHours[i]),hi=scale(v+errs[i]),lo=scale(v-errs[i]);
      seg(sg,px,hi,px,lo,name+'-error-bar-'+i,1.8,'#111');
    });
    vals.forEach(function(v,i){
      marker(sg,kind,x(timeHours[i]),scale(v),name+'-point-'+i);
    });
    vals.forEach(function(v,i){
      const px=x(timeHours[i]),hi=scale(v+errs[i]),lo=scale(v-errs[i]);
      seg(sg,px-6,hi,px+6,hi,name+'-error-cap-top-'+i,1.8,'#111');
      seg(sg,px-6,lo,px+6,lo,name+'-error-cap-bottom-'+i,1.8,'#111');
    });
  }
  series(btConc,btErr,yc,'circle','bt');
  series(so4Conc,so4Err,yc,'diamond','so4');
  series(no3Conc,no3Err,yc,'triangle','no3');
  series(particleConc,particleErr,yp,'star','particle');
  series(tocConc,tocErr,yt,'square','toc');

  function legendItem(x0,x1,cy,kind,name){
    seg(g,x0,cy,x1,cy,name+'-legend-line',2.2,'#333');
    marker(g,kind,(x0+x1)/2,cy,name+'-legend-marker');
  }
  legendItem(112,213,1656,'circle','bt');
  legendItem(254,354,1656,'diamond','so4');
  legendItem(436,537,1656,'triangle','no3');
  legendItem(621,721,1654,'square','toc');
  legendItem(802,903,1654,'star','particle');
})();

/* ---------- panel (f) ---------- */
(function(){
  const g=document.getElementById('panelF');
  const lx=linear(Math.log10(20),3,1347.5,1809), x=function(s){return lx(Math.log10(s));};
  const y=linear(0,12,1512.5,1129);
  const fr=node(g,'rect','panel-f-frame');
  fr.setAttribute('x',1347.5);fr.setAttribute('y',1129);fr.setAttribute('width',461.5);fr.setAttribute('height',399);
  fr.setAttribute('fill','none');fr.setAttribute('stroke','#555');fr.setAttribute('stroke-width',1.8);
  sizeTicks.forEach(function(v){
    seg(g,x(v),1528,x(v),1536,'size-tick-'+v,1.8,'#444');
    label(g,x(v),1553.5,String(v),28,'middle','size-label-'+v);
  });
  fTicksY.forEach(function(v,i){
    seg(g,1341,y(v),1347.5,y(v),'panel-f-y-tick-'+v,1.8,'#444');
    label(g,1336,y(v),fTickLabels[i],28,'end','panel-f-y-label-'+v,fTickExp[i]);
  });
  fMinorY.forEach(function(v){seg(g,1344,y(v),1347.5,y(v),'panel-f-y-minor-tick-'+v,1.5,'#444');});
  const colors=['#4a4a4a','#e8343a','#1f62b0','#2fa060','#9060b0','#c8961e'];
  const sz=[sizes0,sizes1,sizes2,sizes3,sizes4,sizes5];
  const ln=[line0,line1,line2,line3,line4,line5];
  const up=[upper0,upper1,upper2,upper3,upper4,upper5];
  const lw=[lower0,lower1,lower2,lower3,lower4,lower5];
  const labelY=[1490,1425,1363,1298,1230,1169];
  sz.forEach(function(s,i){
    const xs=s.map(x),off=fOffsets[i];
    const top=curvePoints(xs,up[i].map(function(v){return y(v+off);}));
    const bot=curvePoints(xs,lw[i].map(function(v){return y(v+off);})).reverse();
    const band=node(g,'path','size-band-'+i+'h');
    band.setAttribute('d',pts2d(top.concat(bot))+'Z');
    band.setAttribute('fill',colors[i]);band.setAttribute('fill-opacity',0.2);
  });
  sz.forEach(function(s,i){
    const off=fOffsets[i];
    curve(g,s.map(x),ln[i].map(function(v){return y(v+off);}),colors[i],2.4,'size-line-'+i+'h');
    label(g,1761,labelY[i],hourLabels[i].replace(' ','\u00a0\u00a0'),34,'middle','size-label-'+i+'h');
  });
})();
</script>
</body>
</html>
